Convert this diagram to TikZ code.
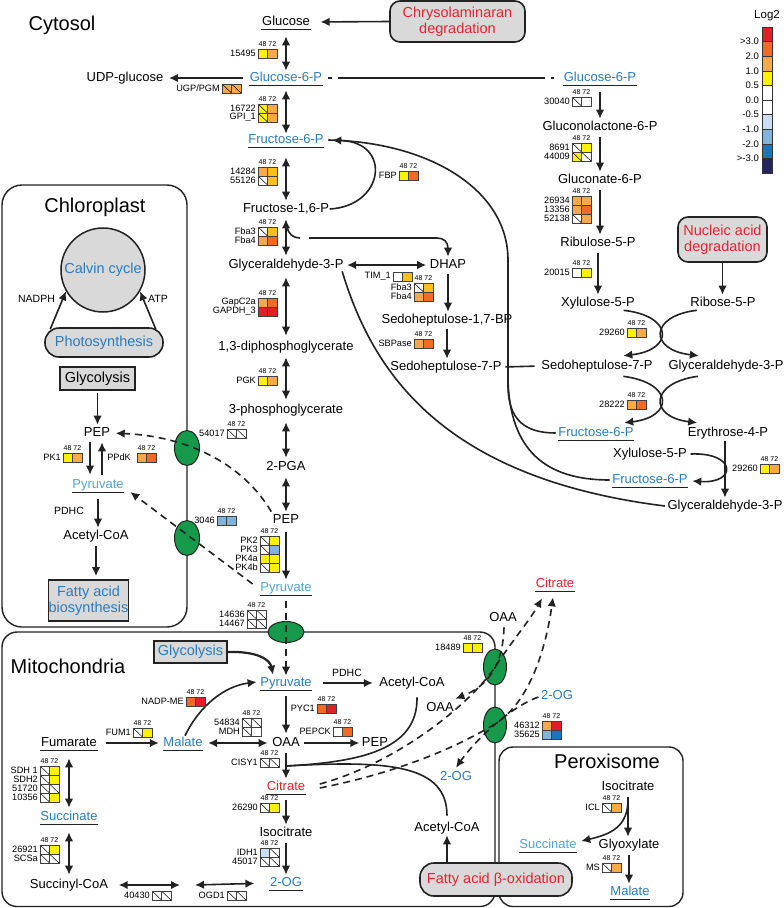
\documentclass[tikz,border=0pt]{standalone}
\usepackage{fontspec}
\setmainfont{Liberation Sans}
\usetikzlibrary{arrows.meta,shapes.geometric,calc}
\definecolor{mblue}{HTML}{2B7BBE}
\definecolor{lblue}{HTML}{4FA3DC}
\definecolor{tred}{HTML}{E52330}
\definecolor{boxgray}{HTML}{D9D9D9}
\definecolor{ovgreen}{HTML}{16994A}
\definecolor{lc}{HTML}{222222}
\definecolor{cR}{HTML}{E31E24}
\definecolor{cO}{HTML}{F26A23}
\definecolor{cL}{HTML}{F9A947}
\definecolor{cG}{HTML}{FDBF1E}
\definecolor{cY}{HTML}{FFF200}
\definecolor{cW}{HTML}{FFFFFF}
\definecolor{cB1}{HTML}{C9DEF2}
\definecolor{cB2}{HTML}{82B3DC}
\definecolor{cB3}{HTML}{1C75B9}
\definecolor{cB4}{HTML}{25245E}
\newcommand{\gcell}[4]{\fill[#3] (#1,#2) rectangle ++(9.5,9);
 \ifnum#4=1 \draw[cdiag] (#1,#2) -- ++(9.5,9);\fi
 \draw[cbord] (#1,#2) rectangle ++(9.5,9);}
\newcommand{\grw}[6]{\gcell{#1}{#2}{#3}{#4}\gcell{#1+9.5}{#2}{#5}{#6}}
\newcommand{\ghd}[3]{\node[hd] (#1) at (#2+9.5,#3-4.8) {48 72};}
\newcommand{\undl}[1]{\draw[ul] ($(#1.south west)+(0,1.2)$) -- ($(#1.south east)+(0,1.2)$);}
\tikzset{
 met/.style={font=\fontsize{13}{15}\selectfont, inner xsep=0.5pt, inner ysep=0pt, text height=9.4pt, text depth=2.8pt},
 bl/.style={met, text=mblue},
 lb/.style={met, text=lblue},
 rd/.style={met, text=tred},
 gl/.style={font=\fontsize{9.2}{9.5}\selectfont, inner sep=0pt, anchor=east},
 hd/.style={font=\fontsize{7}{7.5}\selectfont, inner sep=0pt},
 ttl/.style={font=\fontsize{20}{24}\selectfont, inner sep=0pt},
 sm/.style={font=\fontsize{10.5}{12}\selectfont, inner sep=0pt},
 bx/.style={font=\fontsize{14.5}{16.5}\selectfont, draw=lc, line width=1.6pt, fill=boxgray, inner sep=0pt, align=center},
 ln/.style={line width=1.6pt, draw=lc},
 ar/.style={ln, -{Latex[length=9pt,width=8.5pt]}},
 bar/.style={ln, {Latex[length=9pt,width=8.5pt]}-{Latex[length=9pt,width=8.5pt]}},
 dsh/.style={ar, dash pattern=on 7pt off 5pt},
 comp/.style={draw=lc, line width=1.4pt},
 cbord/.style={draw=black!75, line width=0.5pt},
 cdiag/.style={draw=black, line width=0.5pt},
 ov/.style={ellipse, draw=lc, line width=1pt, fill=ovgreen, inner sep=0pt},
 ul/.style={line width=1.2pt, draw=lc},
}
\begin{document}
\begin{tikzpicture}[x=1pt,y=-1pt]
\useasboundingbox (0,0) rectangle (784,908);
% compartments
\draw[comp, rounded corners=20pt] (2,185) rectangle (187,627);
\draw[comp, rounded corners=15pt] (2,632) rectangle (495,906.5);
\draw[comp, rounded corners=14pt] (499,747) rectangle (683,906.5);
% transporters
\node[ov, minimum width=25pt, minimum height=35pt] (t1) at (187,448) {};
\node[ov, minimum width=25pt, minimum height=35pt] (t2) at (187,538) {};
\node[ov, minimum width=36pt, minimum height=21pt] (t3) at (286,632) {};
\node[ov, minimum width=23pt, minimum height=36pt] (t4) at (495,667) {};
\node[ov, minimum width=23pt, minimum height=36pt] (t5) at (495,725) {};
% titles
\node[ttl] (tcyt) at (62,25) {Cytosol};
\node[ttl] (tchl) at (95,207) {Chloroplast};
\node[ttl] (tmit) at (68,666) {Mitochondria};
\node[ttl] (tper) at (607,761) {Peroxisome};
% cytosol nodes
\node[bx, text=tred, rounded corners=10pt, minimum width=135pt, minimum height=41pt] (chry) at (457.5,21.5) {Chrysolaminaran\\degradation};
\node[met] (glc) at (286,22) {Glucose};
\node[bl] (g6p) at (286,78) {Glucose-6-P};
\node[met] (udp) at (125,78) {UDP-glucose};
\node[bl] (f6p) at (286,140) {Fructose-6-P};
\node[met] (f16p) at (286,209) {Fructose-1,6-P};
\node[met] (gap) at (286,265) {Glyceraldehyde-3-P};
\node[met] (dpg) at (286,347) {1,3-diphosphoglycerate};
\node[met] (pga3) at (286,410) {3-phosphoglycerate};
\node[met] (pga2) at (286,467) {2-PGA};
\node[met] (pep) at (286,520) {PEP};
\node[lb] (pyrc) at (286,588) {Pyruvate};
\node[met] (dhap) at (448,265) {DHAP};
\node[met] (sbp) at (447,320) {Sedoheptulose-1,7-BP};
\node[met] (s7p) at (446,367) {Sedoheptulose-7-P};
\node[bl] (g6pb) at (600,78) {Glucose-6-P};
\node[met] (gl6p) at (600,127) {Gluconolactone-6-P};
\node[met] (gn6p) at (600,180) {Gluconate-6-P};
\node[met] (ru5p) at (598,243) {Ribulose-5-P};
\node[met] (x5p) at (598,303) {Xylulose-5-P};
\node[bx, text=tred, rounded corners=10pt, minimum width=89pt, minimum height=45pt] (nucl) at (722.5,239.5) {Nucleic acid\\degradation};
\node[met] (r5p) at (723,303) {Ribose-5-P};
\node[met] (s7pb) at (597,366) {Sedoheptulose-7-P};
\node[met] (gapb) at (726,366) {Glyceraldehyde-3-P};
\node[bl] (f6pb) at (596,433) {Fructose-6-P};
\node[met] (e4p) at (728,433) {Erythrose-4-P};
\node[met] (x5pb) at (650,454) {Xylulose-5-P};
\node[bl] (f6pc) at (650,480) {Fructose-6-P};
\node[met] (gapc) at (725,506) {Glyceraldehyde-3-P};
% chloroplast nodes
\node[circle, draw=lc, line width=1.5pt, fill=boxgray, minimum size=84pt, inner sep=0pt, font=\fontsize{14.5}{16}\selectfont, text=mblue] (calvin) at (103,270) {Calvin cycle};
\node[bx, text=mblue, rounded corners=14pt, minimum width=118pt, minimum height=29pt] (photo) at (104,342.5) {Photosynthesis};
\node[sm] (nadph) at (36.5,299) {NADPH};
\node[sm] (atp) at (158,299) {ATP};
\node[bx, minimum width=75pt, minimum height=23pt] (glyc) at (97.5,378.5) {Glycolysis};
\node[met] (pepch) at (97,433) {PEP};
\node[lb] (pyrch) at (98,485) {Pyruvate};
\node[sm] (pdhc1) at (69,511) {PDHC};
\node[met] (acoach) at (96,536) {Acetyl-CoA};
\node[bx, text=mblue, minimum width=79pt, minimum height=41pt] (fab) at (88.5,600.5) {Fatty acid\\biosynthesis};
% mitochondria nodes
\node[bx, text=mblue, minimum width=73pt, minimum height=22pt] (glycm) at (190.5,652) {Glycolysis};
\node[bl] (pyrm) at (286,683) {Pyruvate};
\node[sm] (pdhc2) at (347,673) {PDHC};
\node[met] (acoam) at (412,683) {Acetyl-CoA};
\node[met] (oaam) at (286,743) {OAA};
\node[met] (pepm) at (375,743) {PEP};
\node[bl] (malm) at (183,743) {Malate};
\node[met] (fum) at (69,743) {Fumarate};
\node[bl] (succm) at (69,817) {Succinate};
\node[met] (sucoa) at (69,885) {Succinyl-CoA};
\node[rd] (citm) at (286,787) {Citrate};
\node[met] (isom) at (286,833) {Isocitrate};
\node[bl] (ogm) at (286,883) {2-OG};
\node[met] (acoa2) at (447,828) {Acetyl-CoA};
\node[met] (oaaout) at (503,618) {OAA};
\node[rd] (citout) at (555,584) {Citrate};
\node[bl] (ogout) at (557,696) {2-OG};
\node[met] (oaain) at (440,708) {OAA};
\node[bl] (ogin) at (456,777) {2-OG};
% peroxisome nodes
\node[met] (isop) at (628,787) {Isocitrate};
\node[met] (glyox) at (629,845) {Glyoxylate};
\node[lb] (succp) at (548,845) {Succinate};
\node[bl] (malp) at (630,892) {Malate};
% underlines
\undl{glc}\undl{g6p}\undl{f6p}\undl{pyrc}\undl{g6pb}\undl{f6pb}\undl{f6pc}
\undl{pyrch}\undl{pyrm}\undl{malm}\undl{fum}\undl{succm}\undl{citm}\undl{ogm}
\undl{citout}\undl{succp}\undl{malp}
% cytosol connectors
\draw[ar, shorten >=10pt] (chry.west) -- (glc.east);
\draw[bar, shorten <=8pt, shorten >=1pt] (glc.south) -- (glc.south |- g6p.north);
\draw[ar, shorten <=6pt, shorten >=5pt] (g6p.west) -- (udp.east);
\draw[ln, dash pattern=on 4pt off 6pt on 207pt off 6pt on 6pt] ($(g6p.east)+(5,0)$) -- ($(g6pb.west)+(-9,0)$);
\draw[bar, shorten <=6pt, shorten >=0pt] (g6p.south) -- (g6p.south |- f6p.north);
\draw[bar, shorten <=11pt, shorten >=2pt] (f6p.south) -- (f6p.south |- f16p.north);
\draw[bar, shorten <=4pt, shorten >=3pt] (f16p.south) -- (gap.north);
\draw[bar, shorten <=6pt, shorten >=5pt] (gap.south) -- (dpg.north);
\draw[bar, shorten <=4pt, shorten >=4pt] (dpg.south) -- (pga3.north);
\draw[bar, shorten <=6pt, shorten >=3pt] (pga3.south) -- (pga2.north);
\draw[bar, shorten <=4pt, shorten >=2pt] (pga2.south) -- (pep.north);
\draw[ar, shorten <=6pt, shorten >=2pt] (pep.south) -- (pyrc.north);
\draw[ar, shorten >=8pt] (f16p.east) .. controls +(55,-3) and +(68,2) .. (f6p.east);
\draw[ln] ($(f6p.east)+(4,0)$) .. controls (430,142) and (508,190) .. (508,260) -- (508,385) .. controls (508,420) and (525,433) .. ($(f6pb.west)+(-2,0)$);
\draw[ln] (508,380) .. controls (510,450) and (545,480) .. ($(f6pc.west)+(-2,0)$);
\draw[ln] ($(gap.south east)+(-2,0)$) .. controls (372,370) and (440,478) .. ($(gapc.west)+(-2,0)$);
\draw[bar, shorten <=3pt, shorten >=3pt] (gap.east) -- (dhap.west);
\coordinate (hk) at (287,226);
\coordinate (hk2) at (309,238);
\draw[ln] (hk) .. controls (288,234) and (293,238) .. (300,238);
\draw[ar] (hk2) -- (437,238) .. controls (444,238) and (448,242) .. ($(dhap.north)+(0,-2)$);
\draw[ar, shorten <=3pt, shorten >=2pt] (dhap.south) -- (dhap.south |- sbp.north);
\draw[ar, shorten <=3pt, shorten >=2pt] (sbp.south) -- (sbp.south |- s7p.north);
\draw[ln, shorten <=3pt, shorten >=6pt] (s7p.east) -- (s7pb.west);
% pentose phosphate
\draw[ar, shorten <=8pt, shorten >=2pt] (g6pb.south) -- (gl6p.north);
\draw[ar, shorten <=4pt, shorten >=2pt] (gl6p.south) -- (gn6p.north);
\draw[ar, shorten <=4pt, shorten >=2pt] (gn6p.south) -- (gn6p.south |- ru5p.north);
\draw[ar, shorten <=4pt, shorten >=2pt] (ru5p.south) -- (x5p.north);
\draw[ar, shorten >=2pt] (nucl.south) -- (nucl.south |- r5p.north);
\draw[ar] ($(x5p.south east)+(-12,1)$) .. controls (674,316) and (674,350) .. ($(s7pb.north east)+(-30,-4)$);
\draw[ar] ($(r5p.south west)+(7,1)$) .. controls (649,316) and (649,350) .. ($(gapb.north west)+(31,-4)$);
\draw[ar] ($(s7pb.south east)+(-30,4)$) .. controls (674,383) and (674,417) .. ($(f6pb.north east)+(-10,-4)$);
\draw[ar] ($(gapb.south west)+(30,4)$) .. controls (649,383) and (649,417) .. ($(e4p.north west)+(10,-4)$);
\draw[ar] ($(x5pb.east)+(3,0)$) .. controls (737,452) and (737,484) .. ($(f6pc.east)+(4,1)$);
\draw[ar, shorten <=2pt, shorten >=2pt] (gapc.north |- e4p.south) -- (gapc.north);
% chloroplast connectors
\draw[ar] ($(photo.north west)+(6,2)$) -- (calvin.210);
\draw[ar] ($(photo.north east)+(-8,2)$) -- (calvin.330);
\draw[ar, shorten <=2pt, shorten >=2pt] (glyc.south) -- (glyc.south |- pepch.north);
\draw[ar, shorten <=3pt, shorten >=4pt] ($(pepch.south)+(-7,0)$) -- ($(pyrch.north)+(-8,0)$);
\draw[ar, shorten <=4pt, shorten >=3pt] ($(pyrch.north)+(4,0)$) -- ($(pepch.south)+(5,0)$);
\draw[ar, shorten <=8pt, shorten >=2pt] (pyrch.south) -- (pyrch.south |- acoach.north);
\draw[ar, shorten <=4pt, shorten >=3pt] (acoach.south) -- (acoach.south |- fab.north);
\draw[dsh, shorten >=5pt] ($(pep.north west)+(-1,-2)$) .. controls (242,462) and (185,436) .. (pepch.east);
\draw[dsh] ($(pyrc.west)+(-7,-4)$) -- ($(pyrch.east)+(6,7)$);
% mitochondria connectors
\draw[ar, line width=2.2pt] (glycm.east) .. controls (258,651) and (270,660) .. ($(pyrm.north)+(-13,-2)$);
\draw[dsh, shorten <=7pt, shorten >=1pt] (pyrc.south) -- (pyrc.south |- pyrm.north);
\draw[ar, shorten <=11pt, shorten >=6pt] (pyrm.east) -- (acoam.west);
\draw[ar, shorten <=7pt, shorten >=3pt] (pyrm.south) -- (pyrm.south |- oaam.north);
\draw[ar, shorten <=4pt, shorten >=2pt] (oaam.east) -- (pepm.west);
\draw[bar, shorten <=5pt, shorten >=4pt] (malm.east) -- (oaam.west);
\draw[ar, shorten <=8pt, shorten >=4pt] (fum.east) -- (malm.west);
\draw[ar] ($(malm.north)+(2,-1)$) .. controls (200,705) and (225,686) .. ($(pyrm.west)+(-3,-1)$);
\draw[bar, shorten <=9pt, shorten >=3pt] (fum.south) -- (fum.south |- succm.north);
\draw[bar, shorten <=9pt, shorten >=4pt] (succm.south) -- (succm.south |- sucoa.north);
\coordinate (m1) at (180,885);
\coordinate (m2) at (195,885);
\draw[bar, shorten <=10pt] (sucoa.east) -- (m1);
\draw[bar, shorten >=15pt] (m2) -- (ogm.west);
\draw[ar, shorten <=4pt, shorten >=2pt] (oaam.south) -- (oaam.south |- citm.north);
\coordinate (mrg) at (286,766);
\draw[ln] ($(acoam.south)+(5,8)$) .. controls (418,750) and (360,762) .. (mrg);
\draw[ln] ($(acoa2.north)+(0,-6)$) .. controls (447,765) and (390,760) .. (mrg);
\draw[ar, shorten <=7pt, shorten >=2pt] (citm.south) -- (citm.south |- isom.north);
\draw[ar, shorten <=4pt, shorten >=2pt] (isom.south) -- (isom.south |- ogm.north);
% transport across mitochondrial membrane
\draw[dsh] ($(oaaout.south)+(1,3)$) .. controls (503,665) and (488,686) .. ($(oaain.north east)+(1,-3)$);
\draw[dsh] ($(citm.east)+(14,-3)$) .. controls (400,762) and (472,702) .. (495,667) .. controls (512,641) and (530,620) .. ($(citout.south)+(-13,8)$);
\draw[dsh] ($(citm.east)+(14,1)$) .. controls (410,770) and (465,742) .. (495,724) .. controls (530,702) and (546,648) .. ($(citout.south)+(-2,7)$);
\draw[dsh] ($(ogout.west)+(-2,1)$) .. controls (508,708) and (474,742) .. ($(ogin.north)+(0,-3)$);
% peroxisome connectors
\draw[ar, shorten <=4pt, shorten >=2pt] (isop.south) -- (isop.south |- glyox.north);
\draw[ar] ($(isop.south)+(0,6)$) .. controls (628,826) and (612,834) .. ($(succp.east)+(4,-4)$);
\draw[ar, shorten <=4pt, shorten >=2pt] (glyox.south) -- (glyox.south |- malp.north);
\node[bx, text=tred, rounded corners=14pt, minimum width=152pt, minimum height=33pt] (fabox) at (496,879.5) {Fatty acid β-oxidation};
\draw[ar, shorten >=1pt] (fabox.north -| acoa2.south) -- (acoa2.south);
% gene expression boxes
\ghd{h1}{258}{49}\grw{258}{49}{cY}{0}{cL}{0}
\node[gl] (g1) at (256,53.5) {15495};
\grw{222}{84}{cL}{1}{cL}{1}
\node[gl] (g2) at (220,88.5) {UGP/PGM};
\ghd{h3}{258}{104}\grw{258}{104}{cY}{1}{cL}{0}\grw{258}{113}{cY}{1}{cL}{0}
\node[gl] (g3a) at (256,108.5) {16722};
\node[gl] (g3b) at (256,117.5) {GPI\_1};
\ghd{h4}{258}{167}\grw{258}{167}{cL}{0}{cG}{0}\grw{258}{176}{cW}{1}{cG}{0}
\node[gl] (g4a) at (256,171.5) {14284};
\node[gl] (g4b) at (256,180.5) {55126};
\ghd{h5}{399}{171}\grw{399}{171}{cY}{0}{cO}{0}
\node[gl] (g5) at (397,175.5) {FBP};
\ghd{h6}{258}{227}\grw{258}{227}{cW}{1}{cG}{0}\grw{258}{236}{cL}{0}{cO}{0}
\node[gl] (g6a) at (256,231.5) {Fba3};
\node[gl] (g6b) at (256,240.5) {Fba4};
\ghd{h7}{258}{298}\grw{258}{298}{cL}{0}{cO}{0}\grw{258}{307}{cR}{0}{cR}{0}
\node[gl] (g7a) at (256,302.5) {GapC2a};
\node[gl] (g7b) at (256,311.5) {GAPDH\_3};
\grw{393}{272}{cW}{0}{cG}{0}
\node[gl] (g8) at (391,276.5) {TIM\_1};
\ghd{h9}{414}{283}\grw{414}{283}{cW}{1}{cG}{0}\grw{414}{292}{cL}{0}{cO}{0}
\node[gl] (g9a) at (412,287.5) {Fba3};
\node[gl] (g9b) at (412,296.5) {Fba4};
\ghd{h10}{414}{339}\grw{414}{339}{cL}{0}{cO}{0}
\node[gl] (g10) at (412,343.5) {SBPase};
\ghd{h11}{258}{376}\grw{258}{376}{cY}{0}{cL}{0}
\node[gl] (g11) at (256,380.5) {PGK};
\ghd{h12}{227}{429}\grw{227}{429}{cW}{1}{cW}{1}
\node[gl] (g12) at (225,433.5) {54017};
\ghd{h13}{217}{516}\grw{217}{516}{cB2}{0}{cB2}{0}
\node[gl] (g13) at (215,520.5) {3046};
\ghd{h14}{260}{536}\grw{260}{536}{cW}{1}{cY}{0}\grw{260}{545}{cW}{1}{cB2}{0}\grw{260}{554}{cY}{0}{cY}{0}\grw{260}{563}{cW}{1}{cY}{0}
\node[gl] (g14a) at (258,540.5) {PK2};
\node[gl] (g14b) at (258,549.5) {PK3};
\node[gl] (g14c) at (258,558.5) {PK4a};
\node[gl] (g14d) at (258,567.5) {PK4b};
\ghd{h15}{247}{610}\grw{247}{610}{cW}{1}{cW}{1}\grw{247}{619}{cW}{1}{cW}{1}
\node[gl] (g15a) at (245,614.5) {14636};
\node[gl] (g15b) at (245,623.5) {14467};
\ghd{h16}{572}{97}\grw{572}{97}{cW}{1}{cW}{0}
\node[gl] (g16) at (570,101.5) {30040};
\ghd{h17}{572}{143}\grw{572}{143}{cW}{1}{cY}{0}\grw{572}{152}{cY}{1}{cW}{1}
\node[gl] (g17a) at (570,147.5) {8691};
\node[gl] (g17b) at (570,156.5) {44009};
\ghd{h18}{572}{196}\grw{572}{196}{cL}{0}{cL}{0}\grw{572}{205}{cL}{0}{cO}{0}\grw{572}{214}{cW}{1}{cL}{0}
\node[gl] (g18a) at (570,200.5) {26934};
\node[gl] (g18b) at (570,209.5) {13356};
\node[gl] (g18c) at (570,218.5) {52138};
\ghd{h19}{572}{268}\grw{572}{268}{cW}{0}{cY}{0}
\node[gl] (g19) at (570,272.5) {20015};
\ghd{h20}{627}{328}\grw{627}{328}{cY}{0}{cL}{0}
\node[gl] (g20) at (625,332.5) {29260};
\ghd{h21}{627}{400}\grw{627}{400}{cL}{0}{cO}{0}
\node[gl] (g21) at (625,404.5) {28222};
\ghd{h22}{760}{464}\grw{760}{464}{cY}{0}{cL}{0}
\node[gl] (g22) at (758,468.5) {29260};
\ghd{h23}{63}{453}\grw{63}{453}{cY}{0}{cL}{0}
\node[gl] (g23) at (61,457.5) {PK1};
\ghd{h24}{137}{453}\grw{137}{453}{cL}{0}{cO}{0}
\node[gl] (g24) at (131,457.5) {PPdK};
\ghd{h25}{186}{697}\grw{186}{697}{cO}{0}{cR}{0}
\node[gl] (g25) at (184,701.5) {NADP-ME};
\ghd{h26}{133}{728}\grw{133}{728}{cW}{1}{cY}{0}
\node[gl] (g26) at (131,732.5) {FUM1};
\ghd{h27}{242}{718}\grw{242}{718}{cW}{1}{cW}{1}\grw{242}{727}{cW}{1}{cW}{0}
\node[gl] (g27a) at (240,722.5) {54834};
\node[gl] (g27b) at (240,731.5) {MDH};
\ghd{h28}{317}{704}\grw{317}{704}{cO}{0}{cR}{0}
\node[gl] (g28) at (315,708.5) {PYC1};
\ghd{h29}{333}{727}\grw{333}{727}{cW}{0}{cO}{0}
\node[gl] (g29) at (331,731.5) {PEPCK};
\ghd{h30}{260}{758}\grw{260}{758}{cW}{1}{cW}{1}
\node[gl] (g30) at (258,762.5) {CISY1};
\ghd{h31}{260}{803}\grw{260}{803}{cW}{1}{cY}{0}
\node[gl] (g31) at (258,807.5) {26290};
\ghd{h32}{260}{848}\grw{260}{848}{cB1}{0}{cW}{1}\grw{260}{857}{cW}{1}{cW}{1}
\node[gl] (g32a) at (258,852.5) {IDH1};
\node[gl] (g32b) at (258,861.5) {45017};
\ghd{h33}{40}{766}\grw{40}{766}{cW}{1}{cY}{0}\grw{40}{775}{cW}{1}{cY}{0}\grw{40}{784}{cW}{1}{cW}{1}\grw{40}{793}{cW}{1}{cY}{0}
\node[gl] (g33a) at (38,770.5) {SDH 1};
\node[gl] (g33b) at (38,779.5) {SDH2};
\node[gl] (g33c) at (38,788.5) {51720};
\node[gl] (g33d) at (38,797.5) {10356};
\ghd{h34}{40}{845}\grw{40}{845}{cW}{1}{cY}{0}\grw{40}{854}{cW}{1}{cW}{1}
\node[gl] (g34a) at (38,849.5) {26921};
\node[gl] (g34b) at (38,858.5) {SCSa};
\grw{152}{891}{cW}{1}{cW}{1}
\node[gl] (g35) at (150,895.5) {40430};
\grw{227}{891}{cW}{1}{cW}{1}
\node[gl] (g36) at (225,895.5) {OGD1};
\ghd{h37}{463}{643}\grw{463}{643}{cY}{0}{cY}{0}
\node[gl] (g37) at (461,647.5) {18489};
\ghd{h38}{542}{721}\grw{542}{721}{cL}{0}{cR}{0}\grw{542}{730}{cB2}{0}{cB3}{0}
\node[gl] (g38a) at (540,725.5) {46312};
\node[gl] (g38b) at (540,734.5) {35625};
\ghd{h39}{602}{803}\grw{602}{803}{cW}{1}{cL}{0}
\node[gl] (g39) at (600,807.5) {ICL};
\ghd{h40}{602}{863}\grw{602}{863}{cW}{1}{cL}{0}
\node[gl] (g40) at (600,867.5) {MS};
% legend
\node[font=\fontsize{11.5}{13}\selectfont, inner sep=0pt] (lgt) at (767,16) {Log2};
\foreach \c [count=\i from 0] in {cR,cO,cL,cY,cW,cW,cB1,cB2,cB3,cB4}
  \filldraw[fill=\c, draw=black!80, line width=0.6pt] (762,27+14.6*\i) rectangle ++(10,14.6);
\foreach \t [count=\i] in {>3.0,2.0,1.0,0.5,0.0,-0.5,-1.0,-2.0,>-3.0}
  \node[gl, font=\fontsize{9.5}{10}\selectfont] (lg\i) at (759,27+14.6*\i) {\t};
\end{tikzpicture}
\end{document}
